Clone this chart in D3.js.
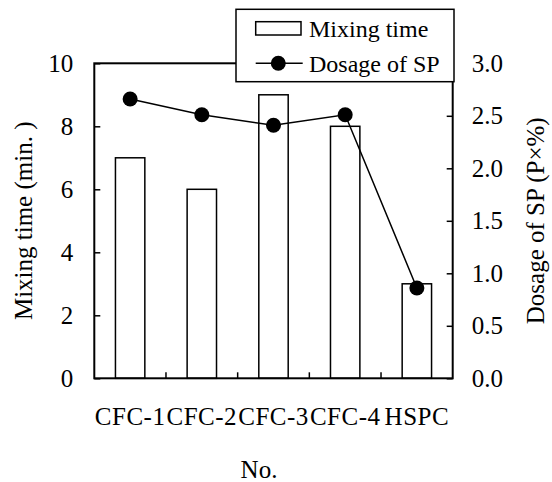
<!doctype html>
<html>
  <head>
    <meta charset="utf-8">
    <title>Mixing time and dosage of SP</title>
    <script src="https://d3js.org/d3.v7.min.js"></script>
    <style type="text/css">
      body { margin: 0; background-color: #ffffff }
    </style>
  </head>
  <body>
    <script>
      // data
      var categories = ["CFC-1", "CFC-2", "CFC-3", "CFC-4", "HSPC"];
      var mixingTime = [7, 6, 9, 8, 3];
      var dosageSP = [2.66, 2.51, 2.41, 2.51, 0.86];
      var leftTicks = [0, 2, 4, 6, 8, 10];
      var rightTicks = [0, 0.5, 1.0, 1.5, 2.0, 2.5, 3.0];

      var serif = "'Liberation Serif', 'Times New Roman', serif";
      var w = 552, h = 482;
      var pLeft = 94.3, pRight = 452.7, pTop = 63.3, pBottom = 378.3;

      var svg = d3.select("body").append("svg")
        .attr("width", w)
        .attr("height", h);

      var x = d3.scaleBand().domain(categories).range([pLeft, pRight]).padding(0);
      var yL = d3.scaleLinear().domain([0, 10]).range([pBottom, pTop]);
      var yR = d3.scaleLinear().domain([0, 3]).range([pBottom, pTop]);
      var barW = x.bandwidth() * 0.41;

      // bars
      svg.append("g").selectAll("rect")
        .data(mixingTime)
        .enter().append("rect")
        .attr("x", function(d, i) { return x(categories[i]) + x.bandwidth() / 2 - barW / 2; })
        .attr("y", function(d) { return yL(d); })
        .attr("width", barW)
        .attr("height", function(d) { return pBottom - yL(d); })
        .style("fill", "#fff")
        .style("stroke", "#000")
        .style("stroke-width", 1.5);

      // frame
      svg.append("rect")
        .attr("x", pLeft).attr("y", pTop)
        .attr("width", pRight - pLeft).attr("height", pBottom - pTop)
        .style("fill", "none").style("stroke", "#000").style("stroke-width", 2);

      // left axis
      var axL = svg.append("g")
        .attr("transform", "translate(" + pLeft + ",0)")
        .attr("font-family", serif)
        .call(d3.axisLeft(yL).tickValues(leftTicks).tickSizeInner(-6).tickSizeOuter(0).tickPadding(21));
      axL.attr("font-family", serif);
      axL.select(".domain").remove();
      axL.selectAll("line").style("stroke-width", 1.5);
      axL.selectAll("text").style("font-size", "25px").style("font-family", serif);

      // right axis
      var axR = svg.append("g")
        .attr("transform", "translate(" + pRight + ",0)")
        .call(d3.axisRight(yR).tickValues(rightTicks).tickFormat(d3.format(".1f"))
          .tickSizeInner(-6).tickSizeOuter(0).tickPadding(19));
      axR.attr("font-family", serif);
      axR.select(".domain").remove();
      axR.selectAll("line").style("stroke-width", 1.5);
      axR.selectAll("text").style("font-size", "25px").style("font-family", serif);

      // category boundary ticks (inward)
      svg.append("g").selectAll("line")
        .data(categories.slice(1))
        .enter().append("line")
        .attr("x1", function(d) { return x(d); })
        .attr("x2", function(d) { return x(d); })
        .attr("y1", pBottom).attr("y2", pBottom - 6)
        .style("stroke", "#000").style("stroke-width", 1.5);

      // category labels
      svg.append("g").selectAll("text")
        .data(categories)
        .enter().append("text")
        .attr("x", function(d) { return x(d) + x.bandwidth() / 2; })
        .attr("y", 425)
        .attr("text-anchor", "middle")
        .style("font-family", serif)
        .style("font-size", "25px")
        .style("letter-spacing", "0.5px")
        .text(function(d) { return d; });

      // dosage line
      var line = d3.line()
        .x(function(d, i) { return x(categories[i]) + x.bandwidth() / 2; })
        .y(function(d) { return yR(d); });
      svg.append("path")
        .datum(dosageSP)
        .attr("d", line)
        .style("fill", "none").style("stroke", "#000").style("stroke-width", 1.5);
      svg.append("g").selectAll("circle")
        .data(dosageSP)
        .enter().append("circle")
        .attr("cx", function(d, i) { return x(categories[i]) + x.bandwidth() / 2; })
        .attr("cy", function(d) { return yR(d); })
        .attr("r", 7.5)
        .style("fill", "#000");

      // axis titles
      svg.append("text")
        .attr("transform", "translate(32," + ((pTop + pBottom) / 2) + ") rotate(-90)")
        .attr("text-anchor", "middle")
        .style("font-family", serif)
        .style("font-size", "25px")
        .text("Mixing time (min. )");
      svg.append("text")
        .attr("transform", "translate(544," + ((pTop + pBottom) / 2) + ") rotate(-90)")
        .attr("text-anchor", "middle")
        .style("font-family", serif)
        .style("font-size", "25px")
        .text("Dosage of SP (P×%)");
      svg.append("text")
        .attr("x", 259).attr("y", 478)
        .attr("text-anchor", "middle")
        .style("font-family", serif)
        .style("font-size", "25px")
        .text("No.");

      // legend
      var lg = svg.append("g");
      lg.append("rect")
        .attr("x", 236).attr("y", 9.3).attr("width", 218).attr("height", 72.4)
        .style("fill", "#fff").style("stroke", "#000").style("stroke-width", 1.5);
      lg.append("rect")
        .attr("x", 255.7).attr("y", 21.7).attr("width", 45.3).attr("height", 13.3)
        .style("fill", "#fff").style("stroke", "#000").style("stroke-width", 1.5);
      lg.append("text").attr("x", 309).attr("y", 36.5)
        .style("font-family", serif).style("font-size", "24px").text("Mixing time");
      lg.append("line")
        .attr("x1", 255.7).attr("x2", 302.7).attr("y1", 63.3).attr("y2", 63.3)
        .style("stroke", "#000").style("stroke-width", 1.5);
      lg.append("circle").attr("cx", 278.3).attr("cy", 63.3).attr("r", 7.5).style("fill", "#000");
      lg.append("text").attr("x", 309).attr("y", 71.7)
        .style("font-family", serif).style("font-size", "24px").text("Dosage of SP");
    </script>
  </body>
</html>
